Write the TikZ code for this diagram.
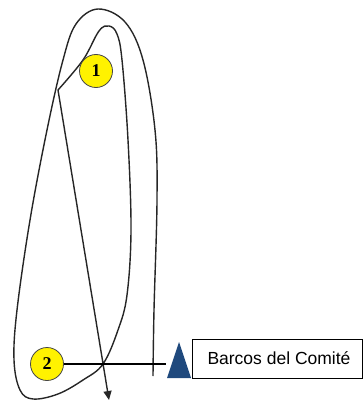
\documentclass[tikz,border=0pt]{standalone}
\usepackage{fontspec}
\setmainfont{Liberation Sans}
\newfontfamily\numfont{Liberation Serif}
\usetikzlibrary{arrows.meta}
\definecolor{triblue}{RGB}{31,73,125}
\definecolor{markgray}{RGB}{70,70,70}
\tikzset{
  course/.style={line width=1.4pt, black!85},
  buoy/.style={circle, draw=markgray, line width=0.8pt, fill=yellow, minimum size=33pt, inner sep=0pt, font=\numfont\bfseries\fontsize{18}{18}\selectfont},
  label box/.style={draw, line width=0.9pt, minimum width=170pt, minimum height=39pt, inner sep=0pt, font=\fontsize{17.5}{20}\selectfont}
}
\begin{document}
\begin{tikzpicture}[x=1pt,y=-1pt]
\useasboundingbox (0,0) rectangle (363,401);
\draw[course, -{Triangle[length=9pt,width=8pt]}]
  plot[smooth, tension=0.6] coordinates {
    (153,376) (154,310) (157,200) (155,130) (143,60) (125,22) (98,9) (76,24) (63,60) (47,130) (30,220) (17,310) (14,360) (20,390) (33,399) (58,394) (83,380) (103,364) (118,330) (127,295) (131,230) (128,140) (122,60) (117,34) (109,26) (99,31) (83,60) (58,90)}
  -- (109,400);
\node[buoy] (c1) at (96,71) {1};
\node[buoy] (c2) at (47,364) {2};
\coordinate (tri) at (166,364);
\draw[line width=1.2pt] (c2) -- (tri);
\fill[triblue] (167,378) -- (179,342) -- (191,378) -- cycle;
\node[label box] (box) at (277,358.5) {\hspace*{4pt}Barcos del Comité};
\end{tikzpicture}
\end{document}
